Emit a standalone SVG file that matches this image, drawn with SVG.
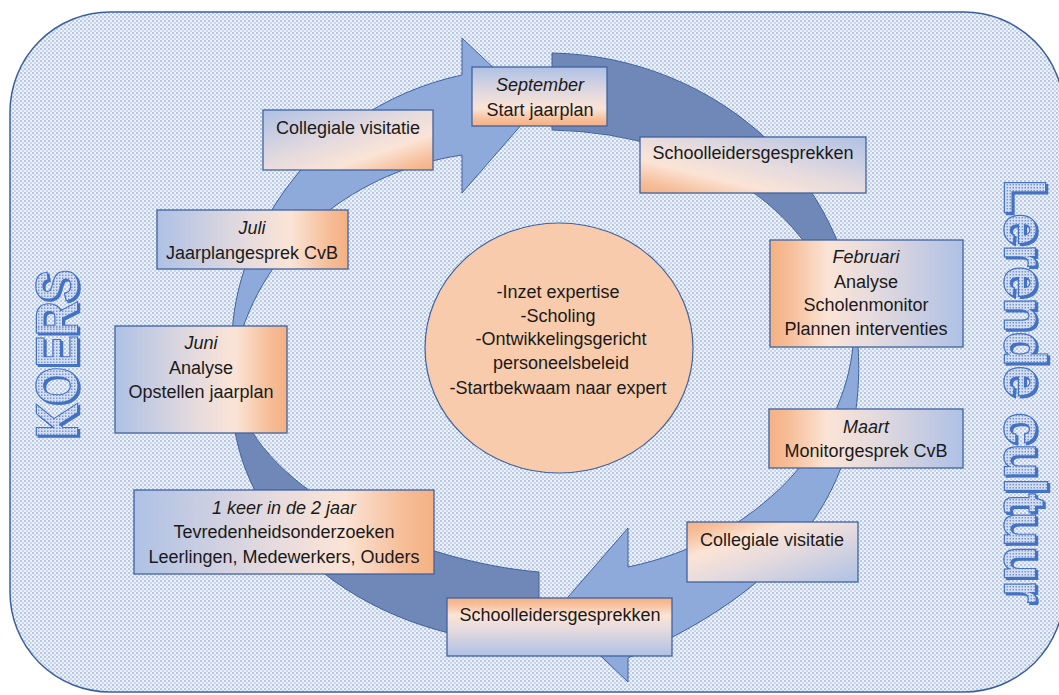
<svg xmlns="http://www.w3.org/2000/svg" width="1059" height="695" viewBox="0 0 1059 695">
<defs>
<pattern id="dots" width="4" height="4" patternUnits="userSpaceOnUse">
<rect width="4" height="4" fill="#edf1f8"/>
<rect width="2" height="2" fill="#b6c7e7"/>
<rect x="2" y="2" width="2" height="2" fill="#c9d5ee"/>
</pattern>
<pattern id="ldots" width="3" height="3" patternUnits="userSpaceOnUse">
<rect width="3" height="3" fill="#d5dff2"/>
<rect width="1.5" height="1.5" fill="#7d98d0"/>
</pattern>
<linearGradient id="gH" x1="0" y1="0" x2="1" y2="0">
<stop offset="0" stop-color="#aec1e5"/><stop offset="0.45" stop-color="#e4dade"/><stop offset="0.7" stop-color="#fbe4d6"/><stop offset="0.9" stop-color="#f6bd97"/><stop offset="1" stop-color="#f4b183"/>
</linearGradient>
<linearGradient id="gHr" x1="1" y1="0" x2="0" y2="0">
<stop offset="0" stop-color="#aec1e5"/><stop offset="0.45" stop-color="#e4dade"/><stop offset="0.7" stop-color="#fbe4d6"/><stop offset="0.9" stop-color="#f6bd97"/><stop offset="1" stop-color="#f4b183"/>
</linearGradient>
<linearGradient id="gV" x1="0" y1="0" x2="0" y2="1">
<stop offset="0" stop-color="#aec1e5"/><stop offset="0.45" stop-color="#e4dade"/><stop offset="0.7" stop-color="#fbe4d6"/><stop offset="0.9" stop-color="#f6bd97"/><stop offset="1" stop-color="#f4b183"/>
</linearGradient>
<linearGradient id="gVr" x1="0" y1="1" x2="0" y2="0">
<stop offset="0" stop-color="#aec1e5"/><stop offset="0.45" stop-color="#e4dade"/><stop offset="0.7" stop-color="#fbe4d6"/><stop offset="0.9" stop-color="#f6bd97"/><stop offset="1" stop-color="#f4b183"/>
</linearGradient>
<linearGradient id="gD1" x1="0" y1="0" x2="1" y2="1">
<stop offset="0" stop-color="#aec1e5"/><stop offset="0.45" stop-color="#e4dade"/><stop offset="0.7" stop-color="#fbe4d6"/><stop offset="0.9" stop-color="#f6bd97"/><stop offset="1" stop-color="#f4b183"/>
</linearGradient>
<linearGradient id="gD2" x1="1" y1="0" x2="0" y2="1">
<stop offset="0" stop-color="#aec1e5"/><stop offset="0.45" stop-color="#e4dade"/><stop offset="0.7" stop-color="#fbe4d6"/><stop offset="0.9" stop-color="#f6bd97"/><stop offset="1" stop-color="#f4b183"/>
</linearGradient>
<linearGradient id="gD3" x1="1" y1="1" x2="0" y2="0">
<stop offset="0" stop-color="#aec1e5"/><stop offset="0.45" stop-color="#e4dade"/><stop offset="0.7" stop-color="#fbe4d6"/><stop offset="0.9" stop-color="#f6bd97"/><stop offset="1" stop-color="#f4b183"/>
</linearGradient>
<style>
.box{stroke:#3f63a0;stroke-width:1.3}
.t{font-family:"Liberation Sans",Arial,sans-serif;font-size:18px;fill:#1a1a1a;text-anchor:middle}
.i{font-style:italic}
.light{fill:#8eaadb;stroke:#3f63a0;stroke-width:1}
.dark{fill:#6f88b8;stroke:#3f63a0;stroke-width:1}
.big{font-family:"Liberation Sans",Arial,sans-serif;font-weight:bold;font-size:58px;text-anchor:middle;fill:url(#ldots);stroke:#4472c4;stroke-width:2.5;paint-order:stroke}
.shadow{font-family:"Liberation Sans",Arial,sans-serif;font-weight:bold;font-size:58px;text-anchor:middle;fill:#4472c4;stroke:#4472c4;stroke-width:2.5}
</style>
</defs>

<g id="background">
<rect x="10" y="12" width="1054" height="680" rx="100" ry="100" fill="url(#dots)" stroke="#3a5f9e" stroke-width="1.5"/>
</g>

<g id="koers">
<text class="shadow" transform="translate(79,356) rotate(-90)" textLength="168" lengthAdjust="spacingAndGlyphs">KOERS</text>
<text class="big" transform="translate(77,354) rotate(-90)" textLength="168" lengthAdjust="spacingAndGlyphs">KOERS</text>
</g>
<g id="lerende-cultuur">
<text class="shadow" transform="translate(1007,393) rotate(90)" textLength="423" lengthAdjust="spacingAndGlyphs">Lerende cultuur</text>
<text class="big" transform="translate(1005,391) rotate(90)" textLength="423" lengthAdjust="spacingAndGlyphs">Lerende cultuur</text>
</g>

<g id="center">
<ellipse cx="559" cy="348" rx="134" ry="125" fill="#f8cbad" stroke="#3f63a0" stroke-width="1.2"/>
<text class="t" x="558" y="298">-Inzet expertise</text>
<text class="t" x="558" y="322">-Scholing</text>
<text class="t" x="561" y="345">-Ontwikkelingsgericht</text>
<text class="t" x="561" y="369">personeelsbeleid</text>
<text class="t" x="558" y="394">-Startbekwaam naar expert</text>
</g>

<g id="connectors">
<path class="dark" d="M552,53 A313,293 0 0 1 858,346 L841,346 A296,216 0 0 0 552,130 Z"/>
<path class="dark" d="M232,390 C228,520 350,640 539,645 L539,572 C420,562 262,495 236,395 Z"/>
<path class="light" d="M233,362 C222,260 300,110 462,75 L462,38 L536,108 L462,193 L462,155 C360,170 262,240 236,352 Z"/>
<path class="light" d="M856,330 L858,345 C866,470 810,580 628,658 L628,682 L555,612 L628,528 L628,567 C760,540 845,440 853,345 Z"/>
</g>

<g id="node-collegiale-1">
<rect class="box" x="263" y="110" width="170" height="60" fill="url(#gD1)"/>
<text class="t" x="348" y="134">Collegiale visitatie</text>
</g>
<g id="node-september">
<rect class="box" x="472" y="67" width="135" height="59" fill="url(#gV)"/>
<text class="t i" x="540" y="91">September</text>
<text class="t" x="540" y="116">Start jaarplan</text>
</g>
<g id="node-schoolleiders-1">
<rect class="box" x="640" y="137" width="226" height="56" fill="url(#gD2)"/>
<text class="t" x="753" y="159">Schoolleidersgesprekken</text>
</g>
<g id="node-juli">
<rect class="box" x="157" y="210" width="191" height="59" fill="url(#gH)"/>
<text class="t i" x="252" y="234">Juli</text>
<text class="t" x="252" y="259">Jaarplangesprek CvB</text>
</g>
<g id="node-februari">
<rect class="box" x="770" y="240" width="193" height="107" fill="url(#gHr)"/>
<text class="t i" x="866" y="263">Februari</text>
<text class="t" x="866" y="288">Analyse</text>
<text class="t" x="866" y="311">Scholenmonitor</text>
<text class="t" x="866" y="335">Plannen interventies</text>
</g>
<g id="node-juni">
<rect class="box" x="115" y="326" width="172" height="107" fill="url(#gH)"/>
<text class="t i" x="201" y="349">Juni</text>
<text class="t" x="201" y="374">Analyse</text>
<text class="t" x="201" y="398">Opstellen jaarplan</text>
</g>
<g id="node-maart">
<rect class="box" x="769" y="409" width="194" height="59" fill="url(#gHr)"/>
<text class="t i" x="866" y="433">Maart</text>
<text class="t" x="866" y="457">Monitorgesprek CvB</text>
</g>
<g id="node-collegiale-2">
<rect class="box" x="687" y="522" width="171" height="60" fill="url(#gD3)"/>
<text class="t" x="772" y="546">Collegiale visitatie</text>
</g>
<g id="node-tevredenheid">
<rect class="box" x="134" y="490" width="300" height="84" fill="url(#gH)"/>
<text class="t i" x="284" y="514">1 keer in de 2 jaar</text>
<text class="t" x="284" y="538">Tevredenheidsonderzoeken</text>
<text class="t" x="284" y="563">Leerlingen, Medewerkers, Ouders</text>
</g>
<g id="node-schoolleiders-2">
<rect class="box" x="447" y="598" width="225" height="58" fill="url(#gVr)"/>
<text class="t" x="560" y="621">Schoolleidersgesprekken</text>
</g>
</svg>
